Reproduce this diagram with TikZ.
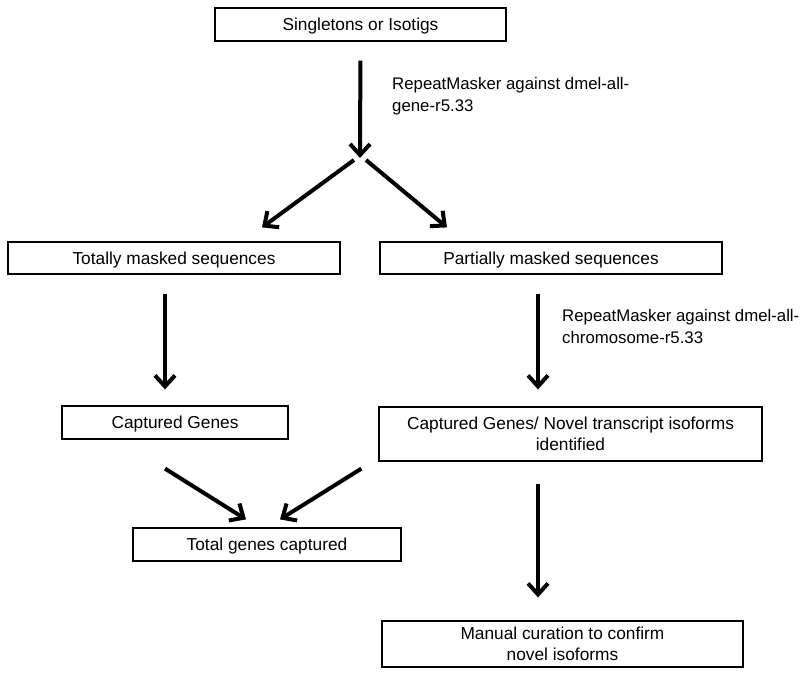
\documentclass[tikz,border=0pt]{standalone}
\usepackage{fontspec}
\setmainfont{Liberation Sans}
\usetikzlibrary{arrows.meta,calc}

\begin{document}
\begin{tikzpicture}[x=1pt,y=-1pt]
 \tikzstyle{stage}=[rectangle, draw, line width=1.2pt, inner sep=0pt, align=center, text depth=0pt, font=\fontsize{17.3}{21}\selectfont]
 \tikzstyle{flow}=[-{Straight Barb[length=11pt,width=20pt]}, line width=4pt]
 \tikzstyle{tool}=[inner sep=0pt, align=left, anchor=north west, font=\fontsize{16.8}{22}\selectfont]
 \useasboundingbox (0,0) rectangle (804,676);
 %
 \node[stage, minimum width=291pt, minimum height=33pt] (single) at (360.5,24.5) {Singletons or Isotigs};
 \coordinate (split) at (360,158);
 %
 \node[stage, minimum width=332pt, minimum height=32pt] (tms) at (174,258) {Totally masked sequences};
 \node[stage, minimum width=342pt, minimum height=32pt] (pms) at (551,258) {Partially masked sequences};
 %
 \node[stage, minimum width=226pt, minimum height=33pt] (cg) at (175,422.5) {Captured Genes};
 \node[stage, minimum width=383pt, minimum height=54pt] (cgn) at (570.5,434) {Captured Genes/ Novel transcript isoforms\\identified};
 %
 \node[stage, minimum width=268pt, minimum height=33pt] (total) at (267,544.5) {Total genes captured};
 \node[stage, minimum width=361pt, minimum height=46pt] (manual) at (562.5,644) {Manual curation to confirm\\novel isoforms};
 %
 \node[tool] (rmgene) at (392,77) {RepeatMasker against dmel-all-\\gene-r5.33};
 \node[tool] (rmchrom) at (562,309) {RepeatMasker against dmel-all-\\chromosome-r5.33};
 %%
 \draw[flow, shorten <=19pt] (single.south) -- (split);
 \draw[flow] ($(split)+(-6,2)$) -- ($(tms.north)+(88,-14)$);
 \draw[flow] ($(split)+(6,2)$) -- ($(pms.north)+(-104,-14)$);
 \draw[flow] ($(tms.south)+(-9,19)$) -- ($(cg.north)+(-10,-16)$);
 \draw[flow] ($(pms.south)+(-13,19)$) -- ($(cgn.north)+(-32.5,-17)$);
 \draw[flow] ($(cg.south)+(-10,29)$) -- ($(total.north)+(-21,-8)$);
 \draw[flow] ($(cgn.south west)+(-17,7)$) -- ($(total.north)+(13,-8)$);
 \draw[flow] ($(cgn.south)+(-32.5,22)$) -- ($(manual.north)+(-24.5,-23)$);
\end{tikzpicture}
\end{document}
